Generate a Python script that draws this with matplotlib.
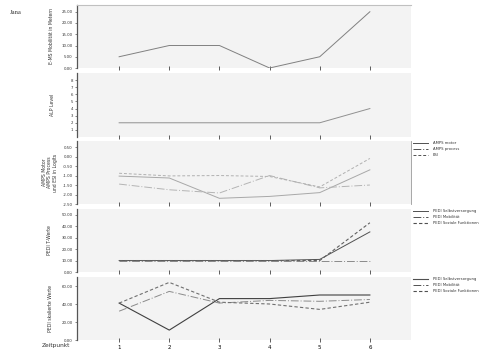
import matplotlib
matplotlib.use('Agg')
import matplotlib.pyplot as plt
import numpy as np

zeitpunkt = [1, 2, 3, 4, 5, 6]

e_ms = [5, 10, 10, 0, 5, 25]
alp_level = [2, 2, 2, 2, 2, 4]

amps_motor = [-1.03, -1.13, -2.2, -2.1, -1.9, -0.7]
amps_process = [-1.45, -1.75, -1.92, -1.0, -1.65, -1.5]
esi = [-0.88, -1.02, -1.0, -1.05, -1.6, -0.1]

pedi_t_selbst = [10, 10, 10, 10, 11, 35]
pedi_t_mob = [10, 10, 10, 10, 10, 10]
pedi_t_soz = [10, 10, 10, 10, 10, 43]

pedi_s_selbst = [41, 11, 46, 46, 50, 50]
pedi_s_mob = [32, 54, 41, 44, 43, 45]
pedi_s_soz = [41, 64, 42, 40, 34, 42]

W, H = 500, 354
fig = plt.figure(figsize=(W / 100, H / 100), dpi=100)
plt.rcParams['font.family'] = 'DejaVu Sans'

left, right = 77, 411
tops = [5, 73, 141, 209, 277]
bottoms = [68, 137, 204, 272, 340]

axes = []
for t, b in zip(tops, bottoms):
    ax = fig.add_axes([left / W, 1 - b / H, (right - left) / W, (b - t) / H])
    ax.set_facecolor('#f3f3f3')
    for s in ['top', 'right', 'bottom']:
        ax.spines[s].set_visible(False)
    ax.spines['left'].set_color('#555555')
    ax.spines['left'].set_linewidth(0.9)
    ax.set_xlim(0.16, 6.82)
    ax.set_xticks(zeitpunkt)
    ax.tick_params(axis='x', direction='inout', length=3, width=0.6,
                   color='#444444', labelsize=4, pad=2, labelbottom=False)
    ax.tick_params(axis='y', direction='out', length=1.5, width=0.5,
                   color='#555555', labelsize=2.8, pad=1.5, labelcolor='#333333')
    axes.append(ax)

lab = dict(fontsize=3.3, color='#333333')

# panel 1
ax = axes[0]
ax.spines['top'].set_visible(True)
ax.spines['top'].set_color('#c0c0c0')
ax.plot(zeitpunkt, e_ms, color='#808080', lw=0.7)
ax.set_ylim(0, 28)
ax.set_yticks([0, 5, 10, 15, 20, 25])
ax.set_yticklabels(['%.2f' % v for v in [0, 5, 10, 15, 20, 25]])
ax.set_ylabel('E-MS Mobilität in Metern', **lab)

# panel 2
ax = axes[1]
ax.plot(zeitpunkt, alp_level, color='#909090', lw=0.7)
ax.set_ylim(0, 9)
ax.set_yticks(range(1, 9))
ax.set_ylabel('ALP Level', **lab)

# panel 3
ax = axes[2]
ax.spines['right'].set_visible(True)
ax.spines['right'].set_color('#999999')
ax.spines['right'].set_linewidth(0.6)
ax.plot(zeitpunkt, amps_motor, color='#a8a8a8', lw=0.7, ls='-', label='AMPS motor')
ax.plot(zeitpunkt, amps_process, color='#b4b4b4', lw=0.7, ls=(0, (8, 2, 1, 2)),
        label='AMPS process')
ax.plot(zeitpunkt, esi, color='#b0b0b0', lw=0.7, ls=(0, (3, 2)), label='ESI')
ax.set_ylim(-2.5, 0.82)
yt = [0.5, 0.0, -0.5, -1.0, -1.5, -2.0, -2.5]
ax.set_yticks(yt)
ax.set_yticklabels(['%.2f' % v for v in yt])
ax.set_ylabel('AMPS Motor\nAMPS Process\nund ESI in Logits', linespacing=1.1, **lab)

# panel 4
ax = axes[3]
ax.plot(zeitpunkt, pedi_t_selbst, color='#505050', lw=0.7, ls='-',
        label='PEDI Selbstversorgung')
ax.plot(zeitpunkt, pedi_t_mob, color='#8a8a8a', lw=0.7, ls=(0, (8, 2, 1, 2)),
        label='PEDI Mobilität')
ax.plot(zeitpunkt, pedi_t_soz, color='#606060', lw=0.8, ls=(0, (3, 2)),
        label='PEDI Soziale Funktionen')
ax.set_ylim(0, 55)
yt = [0, 10, 20, 30, 40, 50]
ax.set_yticks(yt)
ax.set_yticklabels(['%.2f' % v for v in yt])
ax.set_ylabel('PEDI T-Werte', **lab)

# panel 5
ax = axes[4]
ax.plot(zeitpunkt, pedi_s_selbst, color='#404040', lw=0.8, ls='-',
        label='PEDI Selbstversorgung')
ax.plot(zeitpunkt, pedi_s_mob, color='#8a8a8a', lw=0.7, ls=(0, (8, 2, 1, 2)),
        label='PEDI Mobilität')
ax.plot(zeitpunkt, pedi_s_soz, color='#707070', lw=0.8, ls=(0, (3, 2)),
        label='PEDI Soziale Funktionen')
ax.set_ylim(0, 70)
yt = [0, 20, 40, 60]
ax.set_yticks(yt)
ax.set_yticklabels(['%.2f' % v for v in yt])
ax.set_ylabel('PEDI skalierte Werte', **lab)
ax.tick_params(axis='x', labelbottom=True)

# label x positions (right edge of rotated text, axes coords)
for ax, lx in zip(axes, [-0.07, -0.066, -0.058, -0.075, -0.073]):
    ax.yaxis.set_label_coords(lx, 0.5)

for ax in axes[2:]:
    leg = ax.legend(loc='upper left', bbox_to_anchor=(1.006, 1.0), fontsize=2.7,
                    frameon=False, handlelength=4.0, handletextpad=1.1,
                    labelspacing=0.5, borderpad=0.1, borderaxespad=0.0)
    for txt in leg.get_texts():
        txt.set_color('#333333')
    for h in leg.get_lines():
        h.set_color('#505050')

fig.text(10 / W, 1 - 12 / H, 'Jana', fontsize=4.8, family='Liberation Serif',
         color='#333333', va='center')
fig.text(42 / W, 1 - 346 / H, 'Zeitpunkt', fontsize=4.2, color='#333333',
         va='center')

fig.savefig('out.png', dpi=100)
